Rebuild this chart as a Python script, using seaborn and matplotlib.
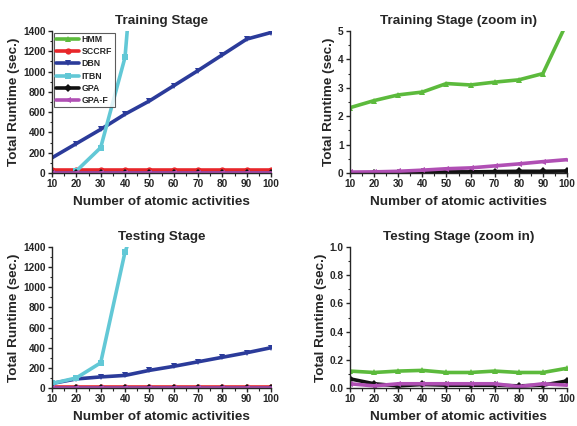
import numpy as np
import pandas as pd
import matplotlib
matplotlib.use("Agg")
import matplotlib.pyplot as plt
from matplotlib.ticker import MultipleLocator, AutoMinorLocator
import seaborn as sns

# x values (number of atomic activities)
activities = [10, 20, 30, 40, 50, 60, 70, 80, 90, 100]
methods = ["HMM", "SCCRF", "DBN", "ITBN", "GPA", "GPA-F"]

# training stage runtimes (sec.)
train_hmm = [2.3, 2.55, 2.75, 2.85, 3.15, 3.1, 3.2, 3.28, 3.5, 5.3]
train_sccrf = [25, 25, 25, 25, 25, 25, 25, 25, 25, 25]
train_dbn = [150, 290, 430, 580, 710, 860, 1010, 1165, 1320, 1385]
train_itbn = [np.nan, 20, 250, 1140, 4000, np.nan, np.nan, np.nan, np.nan, np.nan]
train_gpa = [0.01, 0.01, 0.01, 0.02, 0.04, 0.04, 0.05, 0.06, 0.06, 0.07]
train_gpaf = [0.03, 0.04, 0.06, 0.1, 0.15, 0.18, 0.25, 0.32, 0.4, 0.47]

# testing stage runtimes (sec.)
test_hmm = [0.12, 0.11, 0.12, 0.125, 0.11, 0.11, 0.12, 0.11, 0.11, 0.14]
test_sccrf = [10, 10, 10, 10, 10, 10, 10, 10, 10, 10]
test_dbn = [45, 90, 110, 125, 175, 215, 260, 305, 350, 400]
test_itbn = [45, 100, 250, 1350, 2000, np.nan, np.nan, np.nan, np.nan, np.nan]
test_gpa = [0.065, 0.03, 0.015, 0.025, 0.02, 0.02, 0.02, 0.015, 0.02, 0.05]
test_gpaf = [0.03, 0.015, 0.03, 0.03, 0.03, 0.03, 0.03, 0.01, 0.03, 0.02]

palette = {"HMM": "#5cba3c", "SCCRF": "#e8262a", "DBN": "#2b3b9a",
           "ITBN": "#62c8d6", "GPA": "#111111", "GPA-F": "#b04fb4"}
markers = {"HMM": "^", "SCCRF": "o", "DBN": "v", "ITBN": "s",
           "GPA": "D", "GPA-F": "<"}


def make_df(series):
    rows = []
    for name, vals in zip(methods, series):
        for x, v in zip(activities, vals):
            rows.append({"activities": x, "runtime": v, "method": name})
    return pd.DataFrame(rows)


train_df = make_df([train_hmm, train_sccrf, train_dbn, train_itbn, train_gpa, train_gpaf])
test_df = make_df([test_hmm, test_sccrf, test_dbn, test_itbn, test_gpa, test_gpaf])

sns.set_style("ticks")
plt.rcParams["font.family"] = ["Liberation Sans", "DejaVu Sans"]
plt.rcParams["font.weight"] = "bold"

fig = plt.figure(figsize=(5.77, 4.26), dpi=100)
W, H = 577, 426


def box(l, t, r, b):
    return [l / W, 1 - b / H, (r - l) / W, (b - t) / H]


panels = [
    (box(52, 31, 271, 173), train_df, "Training Stage", (0, 1400), 200, True),
    (box(350, 31, 567, 173), train_df, "Training Stage (zoom in)", (0, 5), 1, False),
    (box(52, 247, 271, 388), test_df, "Testing Stage", (0, 1400), 200, False),
    (box(350, 247, 567, 388), test_df, "Testing Stage (zoom in)", (0, 1.0), 0.2, False),
]

for rect, df, title, ylim, ystep, show_legend in panels:
    ax = fig.add_axes(rect)
    sns.lineplot(data=df, x="activities", y="runtime", hue="method", style="method",
                 hue_order=methods, style_order=methods, palette=palette,
                 markers=markers, dashes=False, linewidth=2.6, markersize=4.5,
                 markeredgewidth=0, legend=show_legend, ax=ax)
    ax.set_xlim(10, 100)
    ax.set_ylim(*ylim)
    ax.xaxis.set_major_locator(MultipleLocator(10))
    ax.xaxis.set_minor_locator(AutoMinorLocator(2))
    ax.yaxis.set_major_locator(MultipleLocator(ystep))
    ax.yaxis.set_minor_locator(AutoMinorLocator(2))
    if ystep < 1:
        ax.yaxis.set_major_formatter(matplotlib.ticker.FormatStrFormatter("%.1f"))
    ax.tick_params(which="major", length=3, width=1, labelsize=7.3, pad=1.5)
    ax.tick_params(which="minor", length=1.8, width=0.8)
    for lab in ax.get_xticklabels() + ax.get_yticklabels():
        lab.set_fontweight("bold")
    sns.despine(ax=ax)
    ax.spines["left"].set_linewidth(1)
    ax.spines["bottom"].set_linewidth(1)
    ax.set_title(title, fontsize=9.7, fontweight="bold", pad=5)
    ax.set_xlabel("Number of atomic activities", fontsize=9.7, fontweight="bold", labelpad=5)
    ax.set_ylabel("Total Runtime (sec.)", fontsize=9.7, fontweight="bold", labelpad=2)
    if show_legend:
        leg = ax.legend(loc="upper left", fontsize=6.3, frameon=True, fancybox=False,
                        borderpad=0.3, labelspacing=0.35, handlelength=2.6,
                        handletextpad=0.3, borderaxespad=0.2)
        leg.get_frame().set_edgecolor("#333333")
        leg.get_frame().set_linewidth(0.8)
        for t in leg.get_texts():
            t.set_fontweight("bold")

fig.savefig("out.png", dpi=100)
